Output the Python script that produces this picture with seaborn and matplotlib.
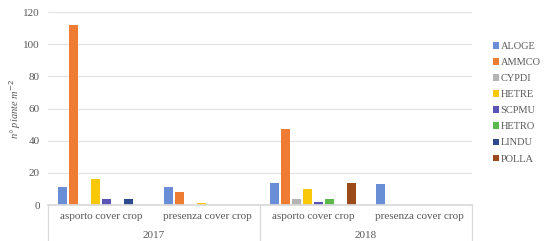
import pandas as pd
import matplotlib
matplotlib.use('Agg')
import matplotlib.pyplot as plt
import seaborn as sns

anni = ['2017', '2017', '2018', '2018']
trattamenti = ['asporto cover crop', 'presenza cover crop',
               'asporto cover crop', 'presenza cover crop']
specie = ['ALOGE', 'AMMCO', 'CYPDI', 'HETRE', 'SCPMU', 'HETRO', 'LINDU', 'POLLA']

ALOGE = [11, 11, 14, 13]
AMMCO = [112, 8, 47, 0]
CYPDI = [0, 0, 4, 0]
HETRE = [16, 1, 10, 0]
SCPMU = [4, 0, 2, 0]
HETRO = [0, 0, 4, 0]
LINDU = [4, 0, 0, 0]
POLLA = [0, 0, 14, 0]

colori = ['#6A8ED6', '#EE7D33', '#B4B4B4', '#FAC80A',
          '#5A55B4', '#5DB84B', '#2E4A8E', '#9B4A19']

valori = [ALOGE, AMMCO, CYPDI, HETRE, SCPMU, HETRO, LINDU, POLLA]
categorie = [f'{a}|{t}' for a, t in zip(anni, trattamenti)]
righe = []
for sp, vals in zip(specie, valori):
    for cat, v in zip(categorie, vals):
        righe.append({'categoria': cat, 'specie': sp, 'valore': v})
df = pd.DataFrame(righe)

sns.set_theme(style='white')
plt.rcParams['font.family'] = ['Liberation Serif', 'DejaVu Serif']
grigio = '#595959'

fig = plt.figure(figsize=(5.45, 2.41), dpi=100)
ax = fig.add_axes([0.088, 0.149, 0.778, 0.801])

sns.barplot(data=df, x='categoria', y='valore', hue='specie', order=categorie,
            hue_order=specie, palette=colori, width=0.83, gap=0.18,
            saturation=1, linewidth=0, ax=ax, legend=True)

ax.set_ylim(0, 120)
ax.set_yticks(range(0, 121, 20))
ax.yaxis.grid(True, color='#E3E3E3', linewidth=0.9)
ax.set_axisbelow(True)
for s in ['top', 'right', 'left']:
    ax.spines[s].set_visible(False)
ax.spines['bottom'].set_color('#D9D9D9')
ax.set_xlim(-0.5, 3.5)

ax.set_xticks(range(4))
ax.set_xticklabels(trattamenti, fontsize=8, color=grigio)
ax.tick_params(axis='y', labelsize=8, colors=grigio, length=0, pad=6)
ax.tick_params(axis='x', length=0, pad=5)
ax.set_xlabel('')
ax.set_ylabel('n° piante m$^{-2}$', fontsize=7.5, color=grigio, style='italic',
              labelpad=0)

# secondo livello dell'asse x: anni e separatori
trans = ax.get_xaxis_transform()
for xs in [-0.5, 1.5, 3.5]:
    ax.plot([xs, xs], [0, -0.2], transform=trans, color='#D9D9D9',
            linewidth=0.9, clip_on=False)
for xc, anno in [(0.5, '2017'), (2.5, '2018')]:
    ax.text(xc, -0.155, anno, transform=trans, ha='center', va='center',
            fontsize=8, color=grigio)

leg = ax.legend(loc='center left', bbox_to_anchor=(1.05, 0.53), frameon=False,
                fontsize=7.5, handlelength=0.6, handleheight=0.6,
                handletextpad=0.1, labelspacing=0.68, borderaxespad=0,
                borderpad=0)
for t in leg.get_texts():
    t.set_color(grigio)

plt.savefig('out.png', dpi=100)
